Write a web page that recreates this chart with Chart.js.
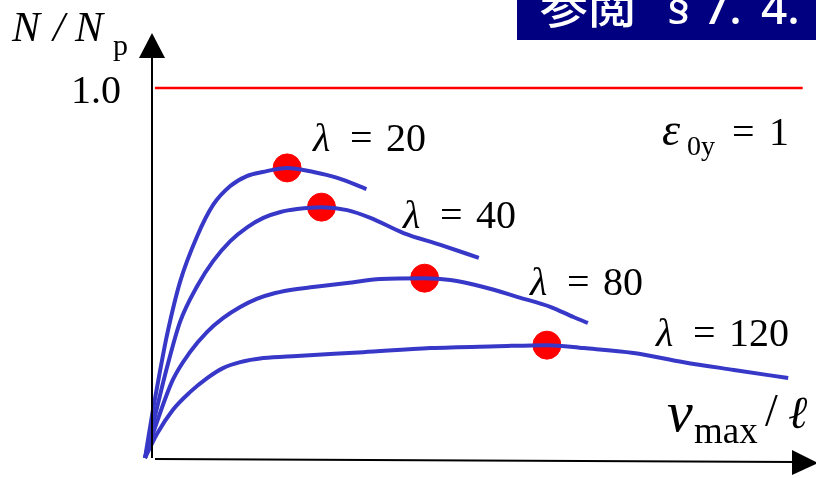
<!DOCTYPE html>
<html>
<head>
<meta charset="utf-8">
<script src="https://cdn.jsdelivr.net/npm/chart.js@4.4.1/dist/chart.umd.min.js"></script>
<style>
  html, body { margin: 0; padding: 0; background: #fff; }
  #wrap { width: 816px; height: 478px; position: relative; }
</style>
</head>
<body>
<div id="wrap"><canvas id="myChart"></canvas></div>
<script>
// slenderness values, one curve each
const lambdas = [20, 40, 80, 120];

// N/Np against vmax/l (x in arbitrary units)
const curve20 = [[-0.03,0],[0.09,0.130],[0.2,0.238],[0.3,0.330],[0.5,0.476],[0.76,0.600],[1.0,0.684],[1.26,0.735],[1.51,0.762],[1.75,0.773],[2.12,0.784],[2.52,0.773],[2.88,0.757],[3.32,0.727]];
const curve40 = [[-0.03,0],[0.15,0.135],[0.3,0.243],[0.5,0.368],[0.76,0.465],[1.0,0.532],[1.26,0.586],[1.52,0.624],[1.76,0.649],[2.02,0.665],[2.27,0.673],[2.64,0.678],[3.03,0.670],[3.38,0.649],[3.88,0.608],[4.44,0.576],[5.02,0.541]];
const curve80 = [[-0.03,0],[0.15,0.097],[0.39,0.211],[0.65,0.286],[0.91,0.341],[1.15,0.378],[1.41,0.408],[1.66,0.430],[1.94,0.446],[2.27,0.457],[2.51,0.462],[3.03,0.473],[3.53,0.484],[4.2,0.486],[4.59,0.481],[5.09,0.462],[5.61,0.435],[6.11,0.408],[6.45,0.381],[6.67,0.365]];
const curve120 = [[-0.03,0],[0.15,0.065],[0.39,0.130],[0.65,0.178],[0.91,0.216],[1.15,0.243],[1.41,0.259],[1.76,0.270],[2.27,0.276],[3.27,0.286],[4.29,0.297],[5.3,0.302],[6.05,0.305],[6.61,0.297],[7.36,0.284],[8.12,0.259],[8.88,0.238],[9.7,0.216]];

// maximum points
const peakX = [2.12, 2.64, 4.2, 6.05];
const peakY = [0.784, 0.678, 0.486, 0.305];

// plastic limit line
const limitX = [0.12, 9.92];
const limitY = 1.0;

const yTickValues = [1.0];
const yTickLabels = ['1.0'];

const toPts = arr => arr.map(p => ({ x: p[0], y: p[1] }));
const curves = [curve20, curve40, curve80, curve120];

const BLUE = '#3838C8';
const SERIF = '"Liberation Serif", "DejaVu Serif", serif';

const datasets = curves.map((c, i) => ({
  label: 'lambda=' + lambdas[i],
  data: toPts(c),
  borderColor: BLUE,
  borderWidth: 4,
  pointRadius: 0,
  cubicInterpolationMode: 'monotone',
  fill: false,
  clip: false
}));

datasets.push({
  label: 'limit',
  data: limitX.map(x => ({ x: x, y: limitY })),
  borderColor: '#FF0000',
  borderWidth: 2.5,
  pointRadius: 0,
  fill: false,
  clip: false
});

datasets.push({
  label: 'peak',
  type: 'scatter',
  data: peakX.map((x, i) => ({ x: x, y: peakY[i] })),
  backgroundColor: '#FF0000',
  borderColor: '#FF0000',
  pointRadius: 14,
  clip: false
});

// axes with arrows, labels and the section tag
const sketchPlugin = {
  id: 'sketch',
  afterDraw(chart) {
    const ctx = chart.ctx;
    const xs = chart.scales.x, ys = chart.scales.y;
    const x0 = xs.getPixelForValue(0), y0 = ys.getPixelForValue(0);
    ctx.save();

    // y axis
    ctx.strokeStyle = '#000';
    ctx.fillStyle = '#000';
    ctx.lineWidth = 2;
    const ax = x0 + 5;
    ctx.beginPath();
    ctx.moveTo(ax, y0);
    ctx.lineTo(ax, 55);
    ctx.stroke();
    ctx.beginPath();
    ctx.moveTo(ax, 33);
    ctx.lineTo(ax - 13, 58);
    ctx.lineTo(ax + 13, 58);
    ctx.closePath();
    ctx.fill();

    // x axis
    ctx.beginPath();
    ctx.moveTo(x0 + 8, y0 + 1);
    ctx.lineTo(795, y0 + 4);
    ctx.stroke();
    ctx.beginPath();
    ctx.moveTo(818, y0 + 5);
    ctx.lineTo(792, y0 - 8);
    ctx.lineTo(792, y0 + 17);
    ctx.closePath();
    ctx.fill();

    ctx.textBaseline = 'alphabetic';

    // y tick labels
    ctx.font = '40px ' + SERIF;
    ctx.textAlign = 'right';
    yTickValues.forEach((v, i) => {
      ctx.fillText(yTickLabels[i], 121, ys.getPixelForValue(v) + 15);
    });
    ctx.textAlign = 'left';

    // y axis title N / Np
    ctx.font = 'italic 42px ' + SERIF;
    ctx.fillText('N', 12, 41);
    ctx.fillText('/', 53, 41);
    ctx.fillText('N', 75, 41);
    ctx.font = '30px ' + SERIF;
    ctx.fillText('p', 113, 55);

    // curve labels
    const labelPos = [[313, 151], [403, 228], [530, 295], [656, 346]];
    lambdas.forEach((l, i) => {
      const [lx, ly] = labelPos[i];
      ctx.font = 'italic 40px ' + SERIF;
      ctx.fillText('λ', lx, ly);
      ctx.font = '40px ' + SERIF;
      ctx.fillText('=', lx + 37, ly);
      ctx.fillText(String(l), lx + 73, ly);
    });

    // epsilon_0y = 1
    ctx.font = 'italic 46px ' + SERIF;
    ctx.fillText('ε', 662, 145);
    ctx.font = '28px ' + SERIF;
    ctx.fillText('0y', 687, 155);
    ctx.font = '40px ' + SERIF;
    ctx.fillText('=', 732, 145);
    ctx.fillText('1', 769, 145);

    // x axis title vmax / l
    ctx.font = 'italic 58px ' + SERIF;
    ctx.fillText('v', 667, 431);
    ctx.font = '37px ' + SERIF;
    ctx.fillText('max', 694, 443);
    ctx.font = '46px ' + SERIF;
    ctx.fillText('/', 765, 426);
    ctx.font = 'italic 46px ' + SERIF;
    ctx.fillText('ℓ', 788, 428);

    // section tag
    ctx.fillStyle = '#000080';
    ctx.fillRect(517, 0, 299, 40);
    ctx.fillStyle = '#FFFFFF';
    ctx.font = '500 48px "Noto Sans CJK JP", sans-serif';
    ctx.fillText('参閲', 540, 23);
    ctx.font = '500 46px "Noto Sans", sans-serif';
    ctx.fillText('§', 667, 24);
    ctx.fillText('7.', 703, 24);
    ctx.fillText('4.', 761, 24);

    ctx.restore();
  }
};

const chartCtx = document.getElementById('myChart');
new Chart(chartCtx, {
  type: 'line',
  data: { datasets: datasets },
  options: {
    responsive: true,
    maintainAspectRatio: false,
    animation: false,
    layout: { autoPadding: false, padding: { left: 147, right: 8, top: 32.5, bottom: 20 } },
    plugins: { legend: { display: false }, tooltip: { enabled: false } },
    scales: {
      x: { type: 'linear', min: 0, max: 10, display: false },
      y: { type: 'linear', min: 0, max: 1.15, display: false }
    }
  },
  plugins: [sketchPlugin]
});
</script>
</body>
</html>
